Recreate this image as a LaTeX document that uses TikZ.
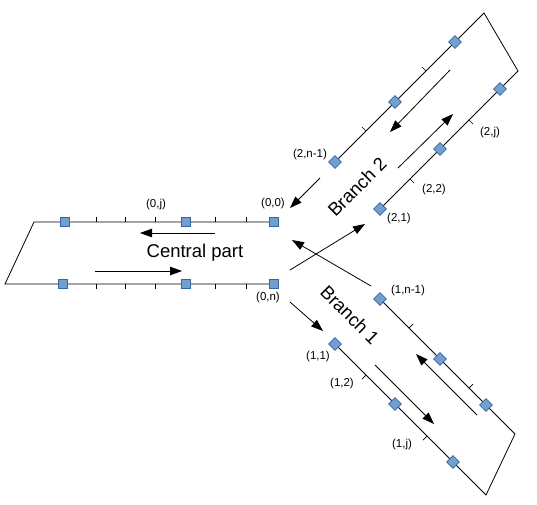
\documentclass[tikz,border=0pt]{standalone}
\usepackage{fontspec}
\setmainfont{Liberation Sans}
\usetikzlibrary{arrows.meta}
\definecolor{sqfill}{RGB}{114,159,207}
\definecolor{sqborder}{RGB}{52,101,164}
\tikzset{
  track/.style={line width=0.8pt, line join=miter},
  sq/.style={draw=sqborder, fill=sqfill, minimum size=9pt, inner sep=0pt, line width=0.6pt},
  dsq/.style={sq, rotate=45},
  flow/.style={line width=0.8pt, -{Triangle[length=12pt,width=8.5pt]}},
  lab/.style={font=\fontsize{11.5}{13}\selectfont, inner sep=0pt},
  title/.style={font=\fontsize{18.5}{21}\selectfont, inner sep=0pt},
  tickmark/.style={line width=0.7pt}
}
\begin{document}
\begin{tikzpicture}[x=1pt,y=-1pt]
\useasboundingbox (0,0) rectangle (537,504);
% ---------- Central part ----------
\coordinate (c0tl) at (34,222);
\coordinate (c0bl) at (5,284);
\coordinate (p00) at (274,222);
\coordinate (p0j) at (186,222);
\coordinate (p0a) at (65,222);
\coordinate (p0n) at (274,284);
\coordinate (p0b) at (186,284);
\coordinate (p0c) at (63,284);
\draw[track] (p00) -- (c0tl) -- (c0bl) -- (p0n);
\foreach \x in {96,125,155,215,246}{
  \draw[tickmark] (\x,222) -- ++(0,-5);
  \draw[tickmark] (\x,284) -- ++(0,5);
}
% ---------- Branch 2 ----------
\coordinate (p2n1) at (335,162);
\coordinate (p2u2) at (395,102);
\coordinate (p2u3) at (455,42);
\coordinate (c2t) at (484,13);
\coordinate (c2r) at (518,71);
\coordinate (p21) at (380,209);
\coordinate (p22) at (440,149);
\coordinate (p2j) at (500,89);
\draw[track] (p2n1) -- (c2t) -- (c2r) -- (p21);
\draw[tickmark] (366,131) -- ++(-4,-4);
\draw[tickmark] (426,71) -- ++(-4,-4);
\draw[tickmark] (410,179) -- ++(4,4);
\draw[tickmark] (469,120) -- ++(4,4);
% ---------- Branch 1 ----------
\coordinate (p1n1) at (380,299);
\coordinate (p1u2) at (440,359);
\coordinate (p1u3) at (486,405);
\coordinate (c1r) at (515,434);
\coordinate (c1b) at (486,495);
\coordinate (p11) at (335,344);
\coordinate (p12) at (395,404);
\coordinate (p1j) at (453,462);
\draw[track] (p1n1) -- (c1r) -- (c1b) -- (p11);
\draw[tickmark] (409,328) -- ++(4,-4);
\draw[tickmark] (469,388) -- ++(4,-4);
\draw[tickmark] (366,375) -- ++(-4,4);
\draw[tickmark] (427,436) -- ++(-4,4);
% ---------- Squares ----------
\foreach \p in {p00,p0j,p0a,p0n,p0b,p0c}{\node[sq] (s\p) at (\p) {};}
\foreach \p in {p2n1,p2u2,p2u3,p21,p22,p2j,p1n1,p1u2,p1u3,p11,p12,p1j}{\node[dsq] (s\p) at (\p) {};}
% ---------- Flow arrows ----------
\coordinate (a1s) at (215,233); \coordinate (a1e) at (140,233);
\coordinate (a2s) at (95,271);  \coordinate (a2e) at (182,271);
\draw[flow] (a1s) -- (a1e);
\draw[flow] (a2s) -- (a2e);
\coordinate (a3s) at (450,70);  \coordinate (a3e) at (390,132);
\coordinate (a4s) at (398,168); \coordinate (a4e) at (453,114);
\draw[flow] (a3s) -- (a3e);
\draw[flow] (a4s) -- (a4e);
\coordinate (a5s) at (477,415); \coordinate (a5e) at (416,354);
\coordinate (a6s) at (375,365); \coordinate (a6e) at (434,424);
\draw[flow] (a5s) -- (a5e);
\draw[flow] (a6s) -- (a6e);
% hub arrows
\coordinate (h1s) at (320,178); \coordinate (h1e) at (290,208);
\coordinate (h2s) at (371,286); \coordinate (h2e) at (292,240);
\coordinate (h3s) at (290,270); \coordinate (h3e) at (365,224);
\coordinate (h4s) at (290,302); \coordinate (h4e) at (323,331);
\draw[flow] (h1s) -- (h1e);
\draw[flow] (h2s) -- (h2e);
\draw[flow] (h3s) -- (h3e);
\draw[flow] (h4s) -- (h4e);
% ---------- Labels ----------
\node[lab] (l0j) at (156,205) {(0,j)};
\node[lab] (l00) at (273,204) {(0,0)};
\node[lab] (l0n) at (268,298) {(0,n)};
\node[lab] (l2n1) at (310,155) {(2,n-1)};
\node[lab] (l2j) at (490,133) {(2,j)};
\node[lab] (l22) at (434,190) {(2,2)};
\node[lab] (l21) at (399,219) {(2,1)};
\node[lab] (l1n1) at (408,291) {(1,n-1)};
\node[lab] (l11) at (318,357) {(1,1)};
\node[lab] (l12) at (342,384) {(1,2)};
\node[lab] (l1j) at (402,445) {(1,j)};
\node[title] (tc) at (195,253) {Central part};
\node[title, rotate=45] (tb2) at (357,187) {Branch 2};
\node[title, rotate=-45] (tb1) at (350,315) {Branch 1};
\end{tikzpicture}
\end{document}
